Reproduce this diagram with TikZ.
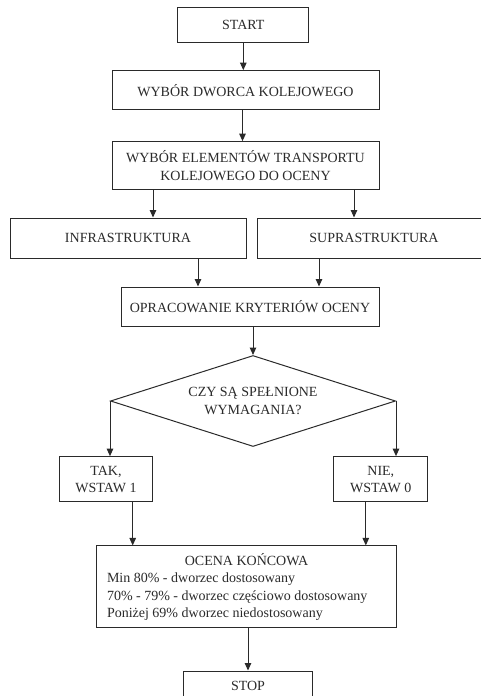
\documentclass[tikz,border=0pt]{standalone}
\usepackage{fontspec}
\setmainfont{Liberation Serif}
\usetikzlibrary{shapes.geometric,arrows.meta,calc}
\definecolor{ink}{HTML}{2A2A2A}
\begin{document}
\begin{tikzpicture}[x=1pt,y=-1pt,
  every node/.style={font=\fontsize{14}{17.5}\selectfont, text=ink},
  box/.style={draw=ink, line width=1pt, inner sep=0pt, align=center},
  arr/.style={draw=ink, line width=1pt, -{Triangle[length=7.5pt,width=6.5pt]}},
]
\useasboundingbox (0,0) rectangle (481,696);
\clip (0,0) rectangle (481,696);
\node[box, minimum width=131.3, minimum height=35.4] (start) at (243.3,25) {START};
\node[box, minimum width=267, minimum height=39.3] (b2) at (245.5,90.3) {WYBÓR DWORCA KOLEJOWEGO};
\node[box, minimum width=267, minimum height=48.3] (b3) at (245.5,165.8) {WYBÓR ELEMENTÓW TRANSPORTU\\KOLEJOWEGO DO OCENY};
\node[box, minimum width=236, minimum height=40] (infra) at (128,238) {INFRASTRUKTURA};
\node[box, minimum width=234, minimum height=40] (supra) at (374,238) {SUPRASTRUKTURA};
\node[box, minimum width=258, minimum height=39] (op) at (250,306.5) {OPRACOWANIE KRYTERIÓW OCENY};
\node[box, diamond, aspect=3.13, minimum width=285, minimum height=91] (d) at (253,401) {CZY SĄ SPEŁNIONE\\WYMAGANIA?};
\node[box, minimum width=93.4, minimum height=45.3] (tak) at (106,479.3) {TAK,\\WSTAW 1};
\node[box, minimum width=93.7, minimum height=45.3] (nie) at (380.8,479.3) {NIE,\\WSTAW 0};
\node[box, minimum width=299.6, minimum height=81.7] (oc) at (246.5,586.8) {\begin{minipage}{279pt}\fontsize{14}{17.4}\selectfont\centering OCENA KOŃCOWA\par\raggedright Min 80\% - dworzec dostosowany\\70\% - 79\% - dworzec częściowo dostosowany\\Poniżej 69\% dworzec niedostosowany\end{minipage}};
\node[box, minimum width=129.4, minimum height=30] (stop) at (248,686) {STOP};

\draw[arr] (start.south) -- (start.south |- b2.north);
\draw[arr] ([xshift=-3pt]b2.south) -- ([xshift=-3pt]b2.south |- b3.north);
\draw[arr] ([xshift=-92.5pt]b3.south) -- ([xshift=-92.5pt]b3.south |- infra.north);
\draw[arr] ([xshift=108.5pt]b3.south) -- ([xshift=108.5pt]b3.south |- supra.north);
\draw[arr] ([xshift=-52pt]op.north |- infra.south) -- ([xshift=-52pt]op.north);
\draw[arr] ([xshift=69pt]op.north |- supra.south) -- ([xshift=69pt]op.north);
\draw[arr] (op.south -| d.north) -- (d.north);
\draw[arr] (d.west) -- (d.west |- tak.north);
\draw[arr] (d.east) -- (d.east |- nie.north);
\draw[arr] ([xshift=26.7pt]tak.south) -- ([xshift=26.7pt]tak.south |- oc.north);
\draw[arr] ([xshift=-15pt]nie.south) -- ([xshift=-15pt]nie.south |- oc.north);
\draw[arr] (oc.south -| stop.north) -- (stop.north);
\end{tikzpicture}
\end{document}
